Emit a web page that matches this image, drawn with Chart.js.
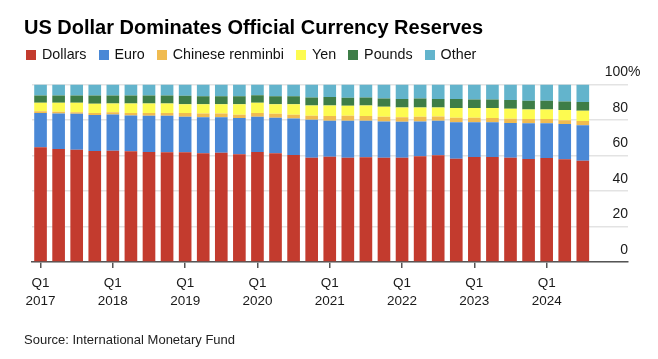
<!DOCTYPE html>
<html>
<head>
<meta charset="utf-8">
<script src="https://cdn.jsdelivr.net/npm/chart.js@4.4.1/dist/chart.umd.min.js"></script>
<style>
  body { margin: 0; background: #fff; font-family: "Liberation Sans", Arial, sans-serif; color: #111; }
  #wrap { position: relative; width: 658px; height: 359px; overflow: hidden; }
  #cvs { position: absolute; left: 0; top: 0; }
  #title { position: absolute; left: 24px; top: 17px; font-size: 20px; line-height: 20px; font-weight: bold; color: #000; white-space: nowrap; }
  #legend { position: absolute; left: 26px; top: 47px; height: 15px; display: flex; align-items: center; font-size: 14.3px; line-height: 15px; white-space: nowrap; }
  .item { display: flex; align-items: center; margin-right: 12px; }
  .box { width: 10px; height: 10px; margin-right: 6px; }
  #source { position: absolute; left: 24px; top: 333px; font-size: 13px; line-height: 13px; color: #222; white-space: nowrap; }
</style>
</head>
<body>
<div id="wrap">
  <canvas id="cvs"></canvas>
  <div id="title">US Dollar Dominates Official Currency Reserves</div>
  <div id="legend"></div>
  <div id="source">Source: International Monetary Fund</div>
</div>
<script>
// quarters on the x axis, the last two slots are empty room for the y labels
var categories = ["Q1 2017", "Q2 2017", "Q3 2017", "Q4 2017",
                  "Q1 2018", "Q2 2018", "Q3 2018", "Q4 2018",
                  "Q1 2019", "Q2 2019", "Q3 2019", "Q4 2019",
                  "Q1 2020", "Q2 2020", "Q3 2020", "Q4 2020",
                  "Q1 2021", "Q2 2021", "Q3 2021", "Q4 2021",
                  "Q1 2022", "Q2 2022", "Q3 2022", "Q4 2022",
                  "Q1 2023", "Q2 2023", "Q3 2023", "Q4 2023",
                  "Q1 2024", "Q2 2024", "Q3 2024", "Q4 2024", "Q1 2025"];

// shares of allocated reserves, %
var dollars = [64.6, 63.6, 63.3, 62.5, 62.7, 62.4, 62.0, 61.8,
               61.8, 61.2, 61.6, 60.7, 62.0, 61.2, 60.3, 58.8,
               59.3, 58.8, 59.0, 58.8, 58.8, 59.6, 60.1, 58.2,
               59.2, 59.2, 58.8, 58.0, 58.6, 57.9, 57.1];
var euro = [19.4, 20.1, 20.2, 20.3, 20.4, 20.2, 20.4, 20.6,
            20.0, 20.4, 20.0, 20.4, 19.8, 20.0, 20.6, 21.3,
            20.3, 20.8, 20.6, 20.4, 20.2, 19.6, 19.5, 20.5,
            19.6, 19.6, 19.5, 20.1, 19.5, 19.8, 20.0];
var renminbi = [1.0, 0.9, 0.9, 1.1, 1.2, 1.4, 1.6, 1.6,
                2.1, 2.1, 2.1, 1.9, 2.1, 2.3, 2.0, 2.3,
                2.6, 2.8, 2.6, 2.6, 2.6, 2.6, 2.4, 2.5,
                2.4, 2.3, 2.4, 2.4, 2.4, 2.2, 2.3];
var yen = [4.7, 5.1, 5.3, 5.2, 5.0, 5.3, 5.3, 5.3,
           5.0, 5.2, 5.2, 5.9, 5.8, 5.4, 6.0, 5.8,
           6.0, 5.6, 6.0, 5.6, 5.5, 5.3, 5.1, 5.5,
           5.5, 5.6, 5.6, 5.4, 5.4, 5.7, 5.8];
var pounds = [4.1, 4.1, 4.1, 4.7, 4.5, 4.5, 4.5, 4.5,
              4.7, 4.5, 4.5, 4.5, 4.3, 4.5, 4.5, 4.5,
              4.7, 4.5, 4.5, 4.7, 4.8, 5.0, 4.8, 5.2,
              4.9, 4.9, 4.9, 4.9, 4.9, 4.8, 4.9];
var other = [6.2, 6.2, 6.2, 6.2, 6.2, 6.2, 6.2, 6.2,
             6.4, 6.6, 6.6, 6.6, 6.0, 6.6, 6.6, 7.3,
             7.1, 7.5, 7.3, 7.9, 8.1, 7.9, 8.1, 8.1,
             8.4, 8.4, 8.8, 9.2, 9.2, 9.6, 9.9];

var yTicks = [0, 20, 40, 60, 80, 100];

var seriesNames = ["Dollars", "Euro", "Chinese renminbi", "Yen", "Pounds", "Other"];
var seriesColors = ["#c33b2e", "#4a88d6", "#f0bb50", "#fdfb50", "#3e7d47", "#63b4cc"];
var seriesData = [dollars, euro, renminbi, yen, pounds, other];

// html legend
var legend = document.getElementById('legend');
seriesNames.forEach(function(name, i) {
    var item = document.createElement('div');
    item.className = 'item';
    item.innerHTML = '<span class="box" style="background:' + seriesColors[i] + '"></span>' + name;
    legend.appendChild(item);
});

var datasets = seriesNames.map(function(name, i) {
    return {
        label: name,
        data: seriesData[i],
        backgroundColor: seriesColors[i],
        borderWidth: 0,
        barPercentage: 0.7,
        categoryPercentage: 1.0
    };
});

// y labels sit above their gridlines at the right end, "%" hangs past the numbers
var yLabels = {
    id: 'yLabels',
    afterDatasetsDraw: function(chart) {
        var ctx = chart.ctx;
        var y = chart.scales.y;
        var right = chart.chartArea.right;
        ctx.save();
        ctx.font = '14px "Liberation Sans", Arial, sans-serif';
        ctx.fillStyle = '#1a1a1a';
        ctx.textBaseline = 'alphabetic';
        yTicks.forEach(function(v) {
            var py = y.getPixelForValue(v) - 8.5;
            ctx.textAlign = 'right';
            ctx.fillText(String(v), right, py);
            if (v === 100) {
                ctx.textAlign = 'left';
                ctx.fillText('%', right, py);
            }
        });
        ctx.restore();
    }
};

var cvs = document.getElementById('cvs');
cvs.width = 658;
cvs.height = 359;

new Chart(cvs, {
    type: 'bar',
    data: { labels: categories, datasets: datasets },
    plugins: [yLabels],
    options: {
        responsive: false,
        animation: false,
        devicePixelRatio: 1,
        layout: { padding: { left: 31.5, right: 30, top: 84.5, bottom: 37 } },
        plugins: {
            legend: { display: false },
            tooltip: { enabled: false },
            title: { display: false }
        },
        scales: {
            x: {
                stacked: true,
                afterFit: function(scale) { scale.height = 60; },
                border: { display: true, color: '#555', width: 1.5 },
                grid: {
                    offset: false,
                    drawOnChartArea: false,
                    drawTicks: true,
                    tickLength: 6,
                    lineWidth: 1.5,
                    color: function(c) {
                        var lab = categories[c.index] || '';
                        return lab.indexOf('Q1') === 0 && c.index < 31 ? '#555' : 'rgba(0,0,0,0)';
                    }
                },
                ticks: {
                    autoSkip: false,
                    maxRotation: 0,
                    padding: 7,
                    color: '#1a1a1a',
                    font: { family: '"Liberation Sans", Arial, sans-serif', size: 13.5, lineHeight: 1.3 },
                    callback: function(val, i) {
                        var lab = categories[i];
                        if (i < 31 && lab.indexOf('Q1') === 0) {
                            return ['Q1', lab.split(' ')[1]];
                        }
                        return '';
                    }
                }
            },
            y: {
                stacked: true,
                min: 0,
                max: 100,
                border: { display: false },
                grid: { color: '#e3e3e3', lineWidth: 1.5, drawTicks: false },
                ticks: { display: false, stepSize: 20 }
            }
        }
    }
});
</script>
</body>
</html>
